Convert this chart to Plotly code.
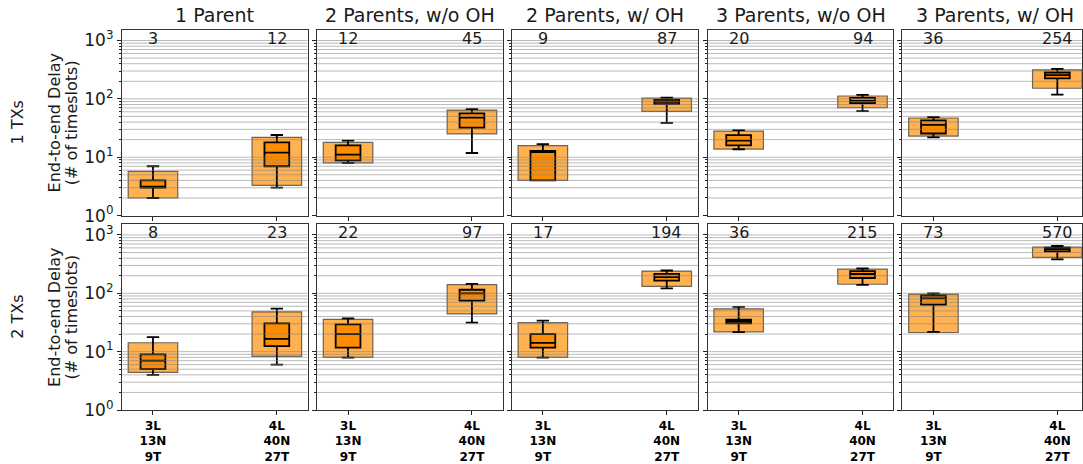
import plotly.graph_objects as go

# ---------------- data ----------------
col_titles = ["1 Parent", "2 Parents, w/o OH", "2 Parents, w/ OH", "3 Parents, w/o OH", "3 Parents, w/ OH"]
row_titles = ["1 TXs", "2 TXs"]
categories = ["3L<br>13N<br>9T", "4L<br>40N<br>27T"]
cat_pos = [0, 1]

# each list: [panel][category]; panels ordered row-major (row 1: cols 1..5, row 2: cols 1..5)
rect_low = [[2.0, 3.3], [8.0, 25.2], [4.0, 61], [13.8, 70.4], [23, 152],
            [4.4, 8.3], [8.0, 44.5], [8.0, 131], [21.9, 143], [21.3, 414]]
rect_high = [[5.7, 21.8], [17.9, 64.3], [15.8, 102.6], [27.9, 112], [47, 314],
             [14.2, 48.2], [35.7, 141], [31.4, 240], [54.1, 259], [97, 618]]
whisk_low = [[2.0, 3.0], [8.0, 11.8], [4.0, 38.7], [13.7, 61.8], [21.8, 118],
             [4.0, 6.0], [7.9, 31.4], [7.9, 121], [21.6, 139], [21.9, 383]]
whisk_high = [[7.0, 24.0], [19.2, 66.8], [16.8, 105], [29.1, 117], [48.9, 327],
              [17.8, 54.8], [37.2, 145], [33.9, 246], [58.5, 266], [99.5, 651]]
q1_vals = [[3.0, 7.0], [8.8, 32.2], [4.0, 81.2], [16.0, 84.5], [25.5, 224],
           [5.0, 12.4], [11.7, 74.8], [11.7, 165], [30.6, 183], [64, 523]]
median_vals = [[3.0, 12.0], [11.1, 47.6], [12.2, 89], [19.2, 92.5], [35.8, 255],
               [7.0, 16.6], [19.9, 99.5], [14.1, 190], [33.1, 214], [81.9, 572]]
q3_vals = [[4.0, 18.0], [16.0, 56.4], [12.8, 96.2], [23.9, 104], [42.9, 283],
           [9.0, 30.6], [29.4, 115], [19.9, 216], [35.3, 240], [90.9, 603]]
top_labels = [["3", "12"], ["12", "45"], ["9", "87"], ["20", "94"], ["36", "254"],
              ["8", "23"], ["22", "97"], ["17", "194"], ["36", "215"], ["73", "570"]]

y_major = [1, 10, 100, 1000]
y_major_text = ["10<sup>0</sup>", "10<sup>1</sup>", "10<sup>2</sup>", "10<sup>3</sup>"]
y_minor = [m * 10 ** k for k in range(0, 3) for m in range(2, 10)]
grid_vals = [v for v in sorted(y_minor + y_major) if v > 1]

# ---------------- layout geometry ----------------
W, H = 1083, 464
ML, MR, MT, MB = 122, 0, 30, 49
PW = W - ML - MR
PH = H - MT - MB
panel_px = [(122, 307.7), (317.3, 503.3), (512.3, 699), (708.3, 894.3), (903.3, 1083)]
row_px = [(30, 218), (227, 415)]
px_per_unit = 186 / 1.5

LIGHT = "#FFB24F"
DARK = "#FF8C00"
FONT = "DejaVu Sans"
TXT = "#1a1a1a"

def clamp(v):
    return max(0.0, min(1.0, v))

fig = go.Figure()
layout = {}
shapes = []
annotations = []

for r in range(2):
    for c in range(5):
        i = r * 5 + c
        n = i + 1
        xs = "" if n == 1 else str(n)
        xa, ya = "x" + xs, "y" + xs

        fig.add_trace(go.Bar(
            x=cat_pos, base=rect_low[i],
            y=[h - l for h, l in zip(rect_high[i], rect_low[i])],
            width=0.4, marker=dict(color=LIGHT, line=dict(color="rgba(60,60,60,0.75)", width=1.2)),
            xaxis=xa, yaxis=ya, showlegend=False, hoverinfo="skip"))
        fig.add_trace(go.Box(
            x=cat_pos, q1=q1_vals[i], median=median_vals[i], q3=q3_vals[i],
            lowerfence=whisk_low[i], upperfence=whisk_high[i],
            width=0.2, whiskerwidth=0.5, fillcolor=DARK,
            line=dict(color="black", width=1.8), boxpoints=False,
            xaxis=xa, yaxis=ya, showlegend=False))

        x0p, x1p = panel_px[c]
        y0p, y1p = row_px[r]
        dom_x = [clamp((x0p - ML) / PW), clamp((x1p - ML) / PW)]
        dom_y = [clamp((MT + PH - y1p) / PH), clamp((MT + PH - y0p) / PH)]
        xr = [-0.25, -0.25 + (x1p - x0p) / px_per_unit]

        layout["xaxis" + xs] = dict(
            domain=dom_x, anchor=ya, range=xr, tickvals=cat_pos,
            ticktext=categories if r == 1 else ["", ""],
            showticklabels=(r == 1), ticks="outside", ticklen=4, tickwidth=1.3,
            tickcolor="#222", showgrid=False, zeroline=False, showline=True,
            linecolor="#333", linewidth=1.2, mirror=True,
            tickfont=dict(family=FONT, size=12, color="black", weight="bold"))
        layout["yaxis" + xs] = dict(
            domain=dom_y, anchor=xa, type="log", range=[0, 3.18],
            tickvals=y_major, ticktext=y_major_text, showticklabels=(c == 0),
            ticks="outside", ticklen=4, tickwidth=1, tickcolor="#222",
            minor=dict(ticks="outside", ticklen=2, tickmode="array", tickvals=y_minor,
                       tickcolor="#222", showgrid=False),
            showgrid=False, zeroline=False, showline=True, linecolor="#333",
            linewidth=1.2, mirror=True,
            tickfont=dict(family=FONT, size=17, color=TXT))

        for v in grid_vals:
            shapes.append(dict(type="line", xref=xa + " domain", yref=ya,
                               x0=0, x1=1, y0=v, y1=v, layer="above",
                               line=dict(color="rgba(130,130,130,0.55)", width=1)))

        for k in range(2):
            annotations.append(dict(xref=xa, yref=ya + " domain", x=cat_pos[k], y=0.955,
                                    text=top_labels[i][k], showarrow=False,
                                    xanchor="center", yanchor="middle",
                                    font=dict(family=FONT, size=16, color=TXT)))

# column titles
for c in range(5):
    x0p, x1p = panel_px[c]
    cx = (x0p + x1p) / 2 if c < 4 else (x0p + 1089.3) / 2
    annotations.append(dict(xref="paper", yref="paper", x=(cx - ML) / PW,
                            y=(MT + PH - 15) / PH, text=col_titles[c], showarrow=False,
                            xanchor="center", yanchor="middle",
                            font=dict(family=FONT, size=19, color=TXT)))

# row titles and y-axis titles
for r in range(2):
    cy = (row_px[r][0] + row_px[r][1]) / 2
    yp = (MT + PH - cy) / PH
    annotations.append(dict(xref="paper", yref="paper", x=(17.5 - ML) / PW, y=yp,
                            text=row_titles[r], textangle=-90, showarrow=False,
                            xanchor="center", yanchor="middle",
                            font=dict(family=FONT, size=16, color=TXT)))
    annotations.append(dict(xref="paper", yref="paper", x=(54.6 - ML) / PW, y=yp,
                            text="End-to-end Delay", textangle=-90, showarrow=False,
                            xanchor="center", yanchor="middle",
                            font=dict(family=FONT, size=16, color=TXT)))
    annotations.append(dict(xref="paper", yref="paper", x=(71.3 - ML) / PW, y=yp,
                            text="(# of timeslots)", textangle=-90, showarrow=False,
                            xanchor="center", yanchor="middle",
                            font=dict(family=FONT, size=16, color=TXT)))

fig.update_layout(
    width=W, height=H,
    margin=dict(l=ML, r=MR, t=MT, b=MB, pad=0),
    paper_bgcolor="white", plot_bgcolor="white",
    showlegend=False, boxmode="overlay", barmode="overlay",
    shapes=shapes, annotations=annotations,
    font=dict(family=FONT, color=TXT),
    **layout)

fig.write_html(
    "out.html",
    config={"displayModeBar": False},
    post_script="document.body.style.margin='0';document.body.style.padding='0';"
                "document.body.style.overflow='hidden';",
)
